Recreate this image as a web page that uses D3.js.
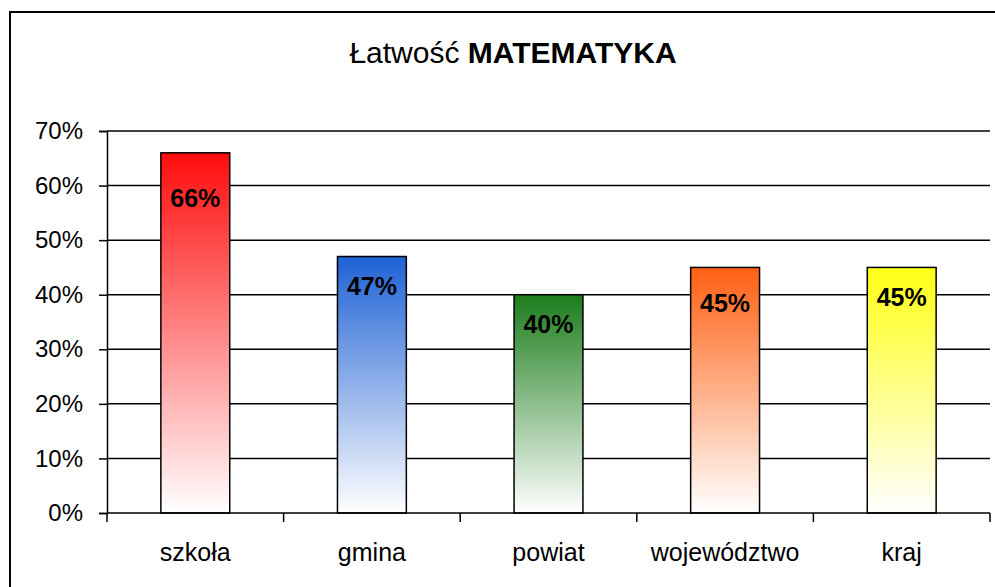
<!DOCTYPE html>
<html>
<head>
<meta charset="utf-8">
<script src="https://cdn.jsdelivr.net/npm/d3@7"></script>
<style>
  body { margin: 0; background: #fff; }
  text { font-family: "Liberation Sans", Arial, sans-serif; }
</style>
</head>
<body>
<div id="canvas"></div>
<script>
"use strict"

// data
let categories = ["szkoła", "gmina", "powiat", "województwo", "kraj"];
let values = [0.66, 0.47, 0.40, 0.45, 0.45];
let topColors = ["#ff0d0d", "#1f62d4", "#1c7d1c", "#ff6012", "#ffff14"];
let yTicks = [0, 0.1, 0.2, 0.3, 0.4, 0.5, 0.6, 0.7];
// how far below the bar top each value label sits (Excel put them unevenly)
let labelDrop = [54, 38, 38, 45, 39];

let width = 995, height = 587;

let drawing = d3.select("#canvas")
    .append("svg")
    .attr("width", width)
    .attr("height", height);

// chart frame (only left and top edge visible in the picture)
drawing.append("rect")
    .attr("x", 10)
    .attr("y", 12)
    .attr("width", 1000)
    .attr("height", 600)
    .attr("fill", "white")
    .attr("stroke", "black")
    .attr("stroke-width", 2);

// title
let title = drawing.append("text")
    .attr("x", 513)
    .attr("y", 63)
    .attr("text-anchor", "middle")
    .attr("font-size", 30);
title.append("tspan").text("Łatwość ");
title.append("tspan").attr("font-weight", "bold").text("MATEMATYKA");

let plotLeft = 107, plotRight = 990, plotTop = 131, plotBottom = 513;

let x = d3.scaleBand()
    .domain(categories)
    .range([plotLeft, plotRight])
    .paddingInner(0.61)
    .paddingOuter(0.305);

let y = d3.scaleLinear()
    .domain([0, 0.7])
    .range([plotBottom, plotTop]);

// gradients, colour at top fading to white
let defs = drawing.append("defs");
categories.forEach(function (c, i) {
    let g = defs.append("linearGradient")
        .attr("id", "grad" + i)
        .attr("x1", 0).attr("y1", 0)
        .attr("x2", 0).attr("y2", 1);
    g.append("stop").attr("offset", "0%").attr("stop-color", topColors[i]);
    g.append("stop").attr("offset", "100%").attr("stop-color", "#ffffff");
});

// gridlines
drawing.append("g")
    .selectAll("line")
    .data(yTicks.slice(1))
    .join("line")
    .attr("x1", plotLeft)
    .attr("x2", plotRight)
    .attr("y1", d => y(d))
    .attr("y2", d => y(d))
    .attr("stroke", "black")
    .attr("stroke-width", 1.5);

// y axis
let yAxis = drawing.append("g")
    .attr("transform", "translate(" + plotLeft + ",0)")
    .call(d3.axisLeft(y).tickValues(yTicks).tickFormat(d3.format(".0%")).tickSize(8).tickPadding(16));
yAxis.selectAll("text")
    .attr("font-size", 24)
    .attr("fill", "black")
    .attr("font-family", "Liberation Sans, Arial, sans-serif");
yAxis.selectAll("line, path").attr("stroke", "black").attr("stroke-width", 1.5);

// bars
drawing.append("g")
    .selectAll("rect")
    .data(values)
    .join("rect")
    .attr("x", (d, i) => x(categories[i]))
    .attr("y", d => y(d))
    .attr("width", x.bandwidth())
    .attr("height", d => plotBottom - y(d))
    .attr("fill", (d, i) => "url(#grad" + i + ")")
    .attr("stroke", "black")
    .attr("stroke-width", 1.5);

// x axis with ticks between categories
let xAxisG = drawing.append("g");
xAxisG.append("line")
    .attr("x1", plotLeft)
    .attr("x2", plotRight)
    .attr("y1", plotBottom)
    .attr("y2", plotBottom)
    .attr("stroke", "black")
    .attr("stroke-width", 1.5);
let step = x.step();
xAxisG.selectAll("line.tick")
    .data(d3.range(categories.length + 1))
    .join("line")
    .attr("class", "tick")
    .attr("x1", d => plotLeft + d * step)
    .attr("x2", d => plotLeft + d * step)
    .attr("y1", plotBottom)
    .attr("y2", plotBottom + 9)
    .attr("stroke", "black")
    .attr("stroke-width", 1.5);
xAxisG.selectAll("text")
    .data(categories)
    .join("text")
    .attr("x", d => x(d) + x.bandwidth() / 2)
    .attr("y", 561)
    .attr("text-anchor", "middle")
    .attr("font-size", 25)
    .text(d => d);

// value labels
drawing.append("g")
    .selectAll("text")
    .data(values)
    .join("text")
    .attr("x", (d, i) => x(categories[i]) + x.bandwidth() / 2)
    .attr("y", (d, i) => y(d) + labelDrop[i])
    .attr("text-anchor", "middle")
    .attr("font-size", 25)
    .attr("font-weight", "bold")
    .text(d => Math.round(d * 100) + "%");
</script>
</body>
</html>
